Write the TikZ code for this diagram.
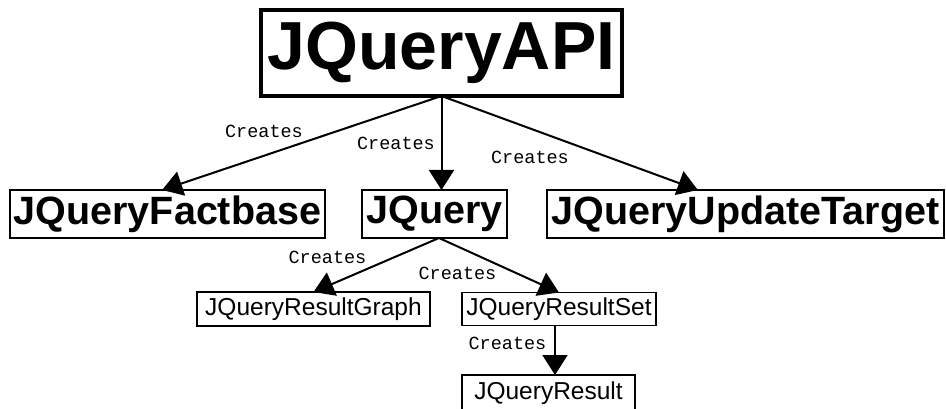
\documentclass[tikz,border=0pt]{standalone}
\usepackage{fontspec}
\setmainfont{Liberation Sans}
\newfontfamily\labelfont{Liberation Mono}
\usetikzlibrary{arrows.meta,calc}
\begin{document}
\begin{tikzpicture}[x=1pt,y=-1pt,
  box/.style={draw, line width=#1, inner sep=0pt, outer sep=0pt, fill=white},
  box/.default=2pt,
  title/.style={box=3.5pt, font=\fontsize{68}{72}\selectfont\bfseries},
  mid/.style={box=2.5pt, font=\fontsize{39.5}{42}\selectfont\bfseries},
  leaf/.style={box=1.5pt, font=\fontsize{24.5}{26}\selectfont},
  rel/.style={line width=2pt, -{Triangle[length=20pt,width=25pt]}},
  lbl/.style={font=\labelfont\fontsize{18.5}{20}\selectfont, inner sep=0pt}]
  \useasboundingbox (0,0) rectangle (946,409);
  \fill[white] (0,0) rectangle (946,409);
  \clip (0,0) rectangle (946,409);

  % classes
  \node[title, minimum width=361pt, minimum height=86pt] (api) at (441.5,53) {JQueryAPI};
  \node[mid, minimum width=315pt, minimum height=48pt] (fact) at (167.5,214) {JQueryFactbase};
  \node[mid, minimum width=145pt, minimum height=48pt] (jq) at (434.5,214) {JQuery};
  \node[mid, minimum width=397pt, minimum height=48pt] (upd) at (745.5,214) {JQueryUpdateTarget};
  \node[leaf, minimum width=233pt, minimum height=34pt] (graph) at (313.5,309) {JQueryResultGraph};
  \node[leaf, minimum width=194pt, minimum height=33pt] (set) at (559,309) {JQueryResultSet};
  \node[leaf, minimum width=173pt, minimum height=36pt] (res) at (548.5,393) {JQueryResult};

  % edge origins
  \coordinate (jqout) at ($(jq.south)+(4.5,0)$);
  \coordinate (setout) at ($(set.south)+(-4,0)$);

  % "Creates" relations
  \draw[rel] (api.south) -- ($(fact.north west)!0.483!(fact.north east)$);
  \draw[rel] (api.south) -- (api.south |- jq.north);
  \draw[rel] (api.south) -- ($(upd.north west)!0.38!(upd.north east)$);
  \draw[rel] (jqout) -- (graph.north);
  \draw[rel] (jqout) -- (set.north);
  \draw[rel] (setout) -- (setout |- res.north);

  % relation labels
  \node[lbl] (c1) at (264,131) {Creates};
  \node[lbl] (c2) at (396,143) {Creates};
  \node[lbl] (c3) at (530,157) {Creates};
  \node[lbl] (c4) at (327.5,257) {Creates};
  \node[lbl] (c5) at (457.5,273) {Creates};
  \node[lbl] (c6) at (507.5,343) {Creates};
\end{tikzpicture}
\end{document}
